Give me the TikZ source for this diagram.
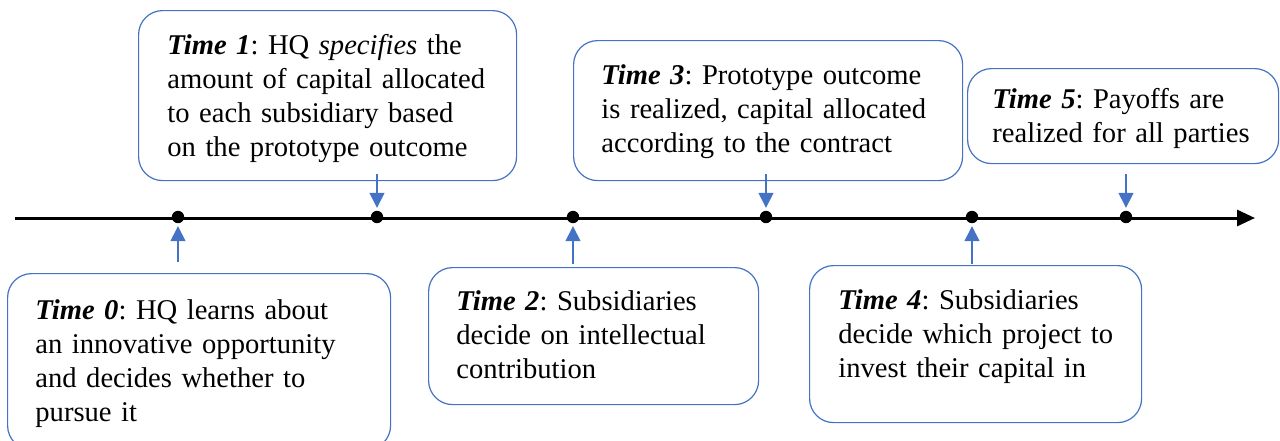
\documentclass[tikz,border=0pt]{standalone}
\usepackage{fontspec}
\setmainfont{Liberation Serif}
\usetikzlibrary{arrows.meta}
\definecolor{accent}{HTML}{4472C4}
\frenchspacing
\begin{document}
\begin{tikzpicture}[x=0.5pt,y=-0.5pt,
  box/.style={draw=accent,line width=0.6pt,rounded corners=12pt,inner sep=0pt,anchor=north west},
  txt/.style={anchor=base west,inner sep=0pt,align=left,text width=200pt,font=\fontsize{14.3}{17}\selectfont\frenchspacing},
  dot/.style={circle,fill=black,inner sep=0pt,minimum size=6.2pt},
  marker/.style={draw=accent,line width=0.75pt,-{Triangle[length=7.5pt,width=7.5pt]},shorten >=1.3pt}]
\useasboundingbox (0,0) rectangle (1280,440);

% timeline
\coordinate (tstart) at (15,218);
\coordinate (tend) at (1255,218);
\draw[line width=1.5pt,-{Triangle[length=9pt,width=8pt]}] (tstart) -- (tend);
\node[dot] (d0) at (178,217) {};
\node[dot] (d1) at (377,217) {};
\node[dot] (d2) at (573,217) {};
\node[dot] (d3) at (766,217) {};
\node[dot] (d4) at (972,217) {};
\node[dot] (d5) at (1126,217) {};

% boxes
\node[box,minimum width=189pt,minimum height=85pt] (b1) at (138,10) {};
\node[box,minimum width=194.5pt,minimum height=70pt] (b3) at (573,40) {};
\node[box,minimum width=155.5pt,minimum height=47.5pt] (b5) at (967,68) {};
\node[box,minimum width=191.5pt,minimum height=88pt] (b0) at (7,273) {};
\node[box,minimum width=165pt,minimum height=68.5pt] (b2) at (428,267) {};
\node[box,minimum width=166pt,minimum height=78.5pt] (b4) at (809,265) {};

% texts
\node[txt] (t1) at (167,54) {\textbf{\textit{Time 1}}: HQ \textit{specifies} the\\amount of capital allocated\\to each subsidiary based\\on the prototype outcome};
\node[txt] (t3) at (601,84) {\textbf{\textit{Time 3}}: Prototype outcome\\is realized, capital allocated\\according to the contract};
\node[txt] (t5) at (992,108) {\textbf{\textit{Time 5}}: Payoffs are\\realized for all parties};
\node[txt] (t0) at (35,319) {\textbf{\textit{Time 0}}: HQ learns about\\an innovative opportunity\\and decides whether to\\pursue it};
\node[txt] (t2) at (456,310) {\textbf{\textit{Time 2}}: Subsidiaries\\decide on intellectual\\contribution};
\node[txt] (t4) at (838,309) {\textbf{\textit{Time 4}}: Subsidiaries\\decide which project to\\invest their capital in};

% marker arrows
\coordinate (s1) at (377,174);
\coordinate (s3) at (766,174);
\coordinate (s5) at (1126,174);
\coordinate (s0) at (178,262);
\coordinate (s2) at (573,264);
\coordinate (s4) at (972,264);
\draw[marker] (s1) -- (d1);
\draw[marker] (s3) -- (d3);
\draw[marker] (s5) -- (d5);
\draw[marker] (s0) -- (d0);
\draw[marker] (s2) -- (d2);
\draw[marker] (s4) -- (d4);
\end{tikzpicture}
\end{document}
